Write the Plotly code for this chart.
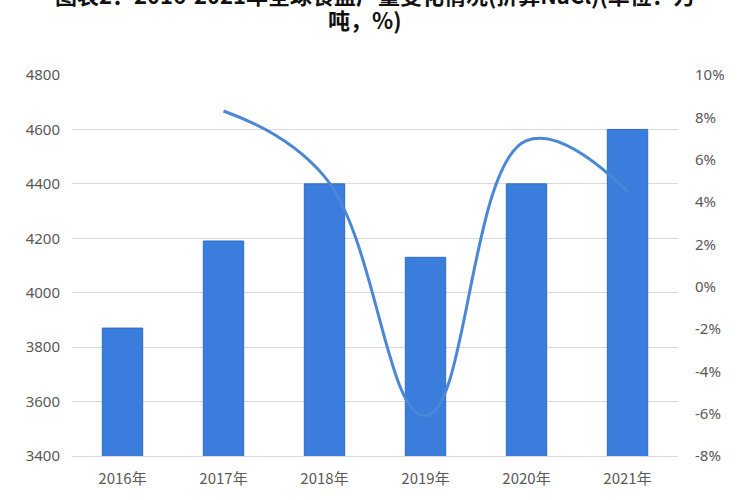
import plotly.graph_objects as go

years = ["2016年", "2017年", "2018年", "2019年", "2020年", "2021年"]
output = [3870, 4190, 4400, 4130, 4400, 4600]
growth = [None, 8.3, 5.2, -6.1, 6.9, 4.5]

left_ticks = [3400, 3600, 3800, 4000, 4200, 4400, 4600, 4800]
right_ticks = [-8, -6, -4, -2, 0, 2, 4, 6, 8, 10]
right_labels = [f"{v}%" for v in right_ticks]

title_line1 = "图表2：2016-2021年全球食盐产量变化情况(折算NaCl)(单位：万"
title_line2 = "吨，%)"

fig = go.Figure()
fig.add_trace(go.Bar(
    x=years, y=output, name="产量",
    marker=dict(color="#3a7ddc", line=dict(color="#2f6cc4", width=1)),
    width=0.4,
))
fig.add_trace(go.Scatter(
    x=years, y=growth, name="增速", yaxis="y2",
    mode="lines", line=dict(color="#4a87d6", width=3, shape="spline", smoothing=1.2),
    connectgaps=False,
))

tick_font = dict(family="Noto Sans, Liberation Sans, sans-serif", size=15, color="#595959")
title_font = dict(family="Noto Sans CJK SC, sans-serif", size=22, color="#111111", weight="bold")

fig.update_layout(
    width=750, height=500,
    margin=dict(l=72, r=72, t=75, b=42),
    paper_bgcolor="white", plot_bgcolor="white",
    showlegend=False,
    xaxis=dict(
        type="category", showgrid=False, showline=True, linecolor="#d9d9d9",
        tickfont=dict(family="Noto Sans CJK SC, sans-serif", size=15, color="#595959"),
        ticks="", ticklabelstandoff=9,
    ),
    yaxis=dict(
        range=[3400, 4800], tickvals=left_ticks, showgrid=True, gridcolor="#d9d9d9",
        gridwidth=1, zeroline=False, showline=False, tickfont=tick_font, ticks="",
        ticklabelstandoff=11,
    ),
    yaxis2=dict(
        range=[-8, 10], tickvals=right_ticks, ticktext=right_labels, overlaying="y",
        side="right", showgrid=False, zeroline=False, showline=False,
        tickfont=tick_font, ticks="", ticklabelstandoff=16,
    ),
    annotations=[
        dict(text=title_line1, xref="paper", yref="paper", x=0.5, y=(458 + 6) / 383,
             xanchor="center", yanchor="middle", showarrow=False, font=title_font),
        dict(text=title_line2, xref="paper", yref="paper", x=0.4835, y=(458 - 19) / 383,
             xanchor="center", yanchor="middle", showarrow=False, font=title_font),
    ],
)

fig.write_html("out.html", config={"displayModeBar": False},
               post_script="document.body.style.margin='0';")
